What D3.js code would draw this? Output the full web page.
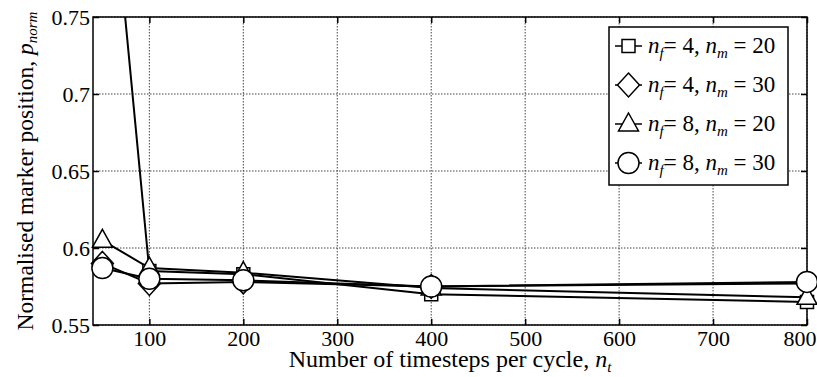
<!DOCTYPE html>
<html>
<head>
<meta charset="utf-8">
<script src="https://cdn.jsdelivr.net/npm/d3@7"></script>
<style>
  body { margin: 0; background: #fff; }
</style>
</head>
<body>
<div id="chart"></div>
<script>
// data
var timesteps = [50, 100, 200, 400, 800];
var sqVals = [0.905, 0.585, 0.583, 0.570, 0.565];     // nf=4, nm=20
var diaVals = [0.590, 0.577, 0.578, 0.575, 0.577];    // nf=4, nm=30
var triVals = [0.605, 0.587, 0.584, 0.574, 0.568];    // nf=8, nm=20
var circVals = [0.587, 0.580, 0.579, 0.575, 0.578];   // nf=8, nm=30
var xTicks = [100, 200, 300, 400, 500, 600, 700, 800];
var yTicks = [0.55, 0.6, 0.65, 0.7, 0.75];
var legendNf = ["4", "4", "8", "8"];
var legendNm = ["20", "30", "20", "30"];

var margins = { top: 17, bottom: 52, left: 93, right: 10 };
var svgWidth = 817, svgHeight = 377;
var width = svgWidth - margins.left - margins.right;
var height = svgHeight - margins.top - margins.bottom;
var serif = '"Liberation Serif"';

var svg = d3.select("#chart").append("svg")
    .attr("width", svgWidth)
    .attr("height", svgHeight);

var chartGroup = svg.append("g")
    .attr("transform", `translate(${margins.left},${margins.top})`);

var xScale = d3.scaleLinear().domain([40, 800]).range([0, width]);
var yScale = d3.scaleLinear().domain([0.55, 0.75]).range([height, 0]);

// dotted grid
chartGroup.append("g").selectAll("line").data(xTicks).enter().append("line")
    .attr("x1", d => xScale(d)).attr("x2", d => xScale(d))
    .attr("y1", 0).attr("y2", height)
    .attr("stroke", "#444").attr("stroke-width", 1).attr("stroke-dasharray", "1.5,1.5");
chartGroup.append("g").selectAll("line").data(yTicks).enter().append("line")
    .attr("x1", 0).attr("x2", width)
    .attr("y1", d => yScale(d)).attr("y2", d => yScale(d))
    .attr("stroke", "#444").attr("stroke-width", 1).attr("stroke-dasharray", "1.5,1.5");

// axes, ticks pointing inwards like matlab
var fmtY = d => String(+d.toFixed(2));
function styleAxis(g) {
    g.select(".domain").remove();
    g.selectAll(".tick line").attr("stroke", "#000").attr("stroke-width", 1.5);
    g.selectAll(".tick text")
        .style("font-family", serif).style("font-size", "22px").attr("fill", "#000");
}
var xAxisG = chartGroup.append("g")
    .attr("transform", `translate(0,${height})`)
    .call(d3.axisBottom(xScale).tickValues(xTicks).tickSizeInner(-6).tickPadding(5))
    .call(styleAxis);
// last label sits against the window edge
xAxisG.selectAll(".tick text").filter(d => d === 800)
    .attr("text-anchor", "end").attr("x", 9);
chartGroup.append("g")
    .call(d3.axisTop(xScale).tickValues(xTicks).tickSizeInner(-6).tickFormat(""))
    .call(styleAxis);
chartGroup.append("g")
    .call(d3.axisLeft(yScale).tickValues(yTicks).tickSizeInner(-6).tickPadding(3).tickFormat(fmtY))
    .call(styleAxis);
chartGroup.append("g")
    .attr("transform", `translate(${width},0)`)
    .call(d3.axisRight(yScale).tickValues(yTicks).tickSizeInner(-6).tickFormat(""))
    .call(styleAxis);

chartGroup.append("rect")
    .attr("width", width).attr("height", height)
    .attr("fill", "none").attr("stroke", "#000").attr("stroke-width", 1.5);

// clip the lines to the axes box
svg.append("defs").append("clipPath").attr("id", "plotClip")
    .append("rect").attr("width", width).attr("height", height);

// marker shapes
var markerPath = {
    square: "M-6.5,-6.5H6.5V6.5H-6.5Z",
    diamond: "M0,-12L11,0L0,12L-11,0Z",
    triangle: "M0,-11L10,7H-10Z",
    circle: "M10.5,0A10.5,10.5,0,1,1,-10.5,0A10.5,10.5,0,1,1,10.5,0Z"
};

var series = [
    { vals: sqVals, shape: "square" },
    { vals: diaVals, shape: "diamond" },
    { vals: triVals, shape: "triangle" },
    { vals: circVals, shape: "circle" }
];

var line = d3.line()
    .x((d, i) => xScale(timesteps[i]))
    .y(d => yScale(d));

series.forEach(s => {
    chartGroup.append("path")
        .attr("clip-path", "url(#plotClip)")
        .attr("d", line(s.vals))
        .attr("fill", "none").attr("stroke", "#000").attr("stroke-width", 2);
});
series.forEach(s => {
    chartGroup.append("g").selectAll("path")
        .data(s.vals.map((v, i) => [timesteps[i], v]).filter(d => d[1] <= 0.75))
        .enter().append("path")
        .attr("transform", d => `translate(${xScale(d[0])},${yScale(d[1])})`)
        .attr("d", markerPath[s.shape])
        .attr("fill", "#fff").attr("stroke", "#000").attr("stroke-width", 1.5);
});

// legend
var legend = chartGroup.append("g").attr("transform", `translate(${609 - margins.left},${27 - margins.top})`);
legend.append("rect").attr("width", 179).attr("height", 158)
    .attr("fill", "#fff").attr("stroke", "#000").attr("stroke-width", 1.5);
series.forEach((s, i) => {
    var row = legend.append("g").attr("transform", `translate(0,${19 + i * 39})`);
    row.append("line").attr("x1", 6).attr("x2", 33).attr("y1", 0).attr("y2", 0)
        .attr("stroke", "#000").attr("stroke-width", 1.5);
    row.append("path").attr("transform", "translate(19.5,0)")
        .attr("d", markerPath[s.shape])
        .attr("fill", "#fff").attr("stroke", "#000").attr("stroke-width", 1.5);
    var t = row.append("text").attr("x", 39).attr("y", 7)
        .style("font-family", serif).style("font-size", "23px");
    t.append("tspan").style("font-style", "italic").text("n");
    t.append("tspan").style("font-style", "italic").style("font-size", "15px").attr("dy", 5).text("f");
    t.append("tspan").attr("dy", -5).text("= " + legendNf[i] + ",  ");
    t.append("tspan").style("font-style", "italic").text("n");
    t.append("tspan").style("font-style", "italic").style("font-size", "15px").attr("dy", 5).text("m");
    t.append("tspan").attr("dy", -5).text(" = " + legendNm[i]);
});

// axis labels
var xLabel = svg.append("text")
    .attr("x", margins.left + width / 2).attr("y", 367)
    .style("font-family", serif).style("font-size", "24px").style("text-anchor", "middle");
xLabel.append("tspan").text("Number of timesteps per cycle, ");
xLabel.append("tspan").style("font-style", "italic").text("n");
xLabel.append("tspan").style("font-style", "italic").style("font-size", "15px").attr("dy", 5).text("t");

var yLabel = svg.append("text")
    .attr("transform", "rotate(-90)")
    .attr("x", -(margins.top + height / 2)).attr("y", 33)
    .style("font-family", serif).style("font-size", "23.5px").style("text-anchor", "middle");
yLabel.append("tspan").text("Normalised marker position, ");
yLabel.append("tspan").style("font-style", "italic").text("p");
yLabel.append("tspan").style("font-style", "italic").style("font-size", "15px").attr("dy", 4).text("norm");
</script>
</body>
</html>
